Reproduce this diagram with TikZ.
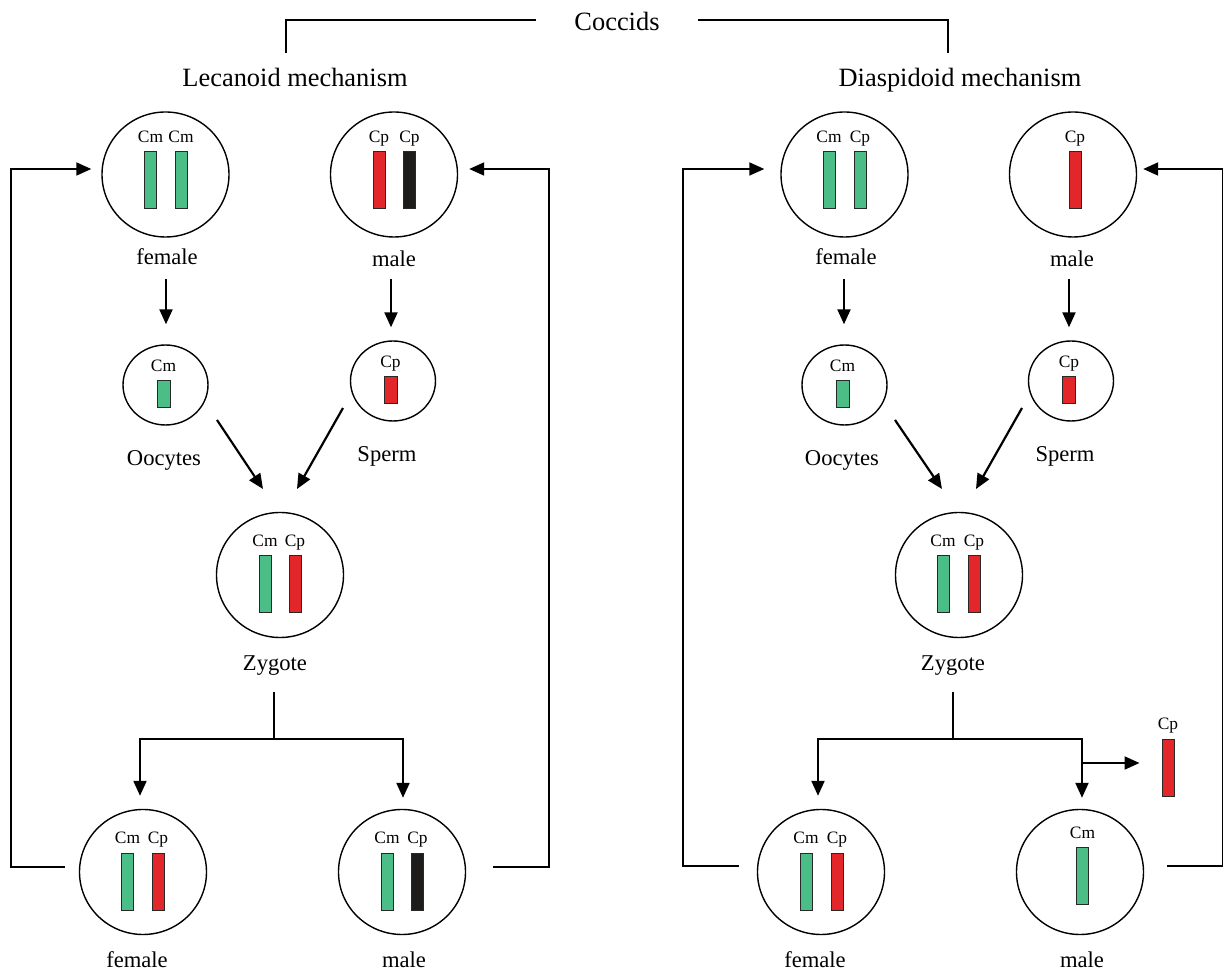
\documentclass[tikz,border=0pt]{standalone}
\usepackage{fontspec}
\setmainfont{Liberation Serif}
\newfontfamily\timesf{Liberation Serif}
\usetikzlibrary{shapes.geometric,arrows.meta,calc}
\definecolor{chrgreen}{RGB}{75,190,136}
\definecolor{chrred}{RGB}{227,38,42}
\definecolor{chrblack}{RGB}{30,27,27}
\definecolor{chredge}{RGB}{40,40,40}
\newcommand{\chrom}[5]{%
  \node[#4] (#1) at (#2,#3) {};
  \node[chrlab] (#1t) at ($(#1.north)+(0,-9)$) {#5};}
\begin{document}
\begin{tikzpicture}[x=0.5pt,y=-0.5pt,
  bigcell/.style={ellipse,draw,line width=0.7pt,minimum width=63.5pt,minimum height=62.5pt,inner sep=0pt},
  smallcell/.style={ellipse,draw,line width=0.7pt,minimum width=42.5pt,minimum height=40pt,inner sep=0pt},
  barbase/.style={rectangle,draw=chredge,line width=0.5pt,inner sep=0pt,minimum width=6pt,minimum height=28.5pt},
  gbar/.style={barbase,fill=chrgreen},
  rbar/.style={barbase,fill=chrred},
  kbar/.style={barbase,fill=chrblack},
  gsbar/.style={gbar,minimum width=6.5pt,minimum height=13.5pt},
  rsbar/.style={rbar,minimum width=6.5pt,minimum height=13.5pt},
  head/.style={anchor=base,inner sep=0pt,font=\timesf\fontsize{13.2pt}{15pt}\selectfont},
  lab/.style={anchor=base,inner sep=0pt,font=\timesf\fontsize{11.3pt}{13pt}\selectfont},
  chrlab/.style={anchor=base,inner sep=0pt,font=\timesf\fontsize{8.7pt}{10pt}\selectfont},
  arr/.style={line width=1.1pt,-{Triangle[length=7.5pt,width=6.5pt]}},
  loopline/.style={line width=0.9pt,-{Triangle[length=7.5pt,width=6.5pt]}},
  tline/.style={line width=0.7pt},
  tline2/.style={line width=0.8pt},
]
\useasboundingbox (0,0) rectangle (1223,972);

% headings
\node[head] (coccids) at (617,31) {Coccids};
\node[head] (lech) at (295,87) {Lecanoid mechanism};
\node[head] (diah) at (960,87) {Diaspidoid mechanism};
\coordinate (brL) at (286,53);
\coordinate (brR) at (948,53);
\draw[tline] ([xshift=-19pt,yshift=1pt]coccids.west) -| (brL);
\draw[tline] ([xshift=19pt,yshift=1pt]coccids.east) -| (brR);

% ---------- Lecanoid ----------
\node[bigcell] (LF) at (165.5,174.5) {};
\node[bigcell] (LM) at (394,174.5) {};
\chrom{lf1}{150.5}{180.5}{gbar}{Cm}
\chrom{lf2}{181}{180.5}{gbar}{Cm}
\chrom{lm1}{379}{180.5}{rbar}{Cp}
\chrom{lm2}{409.5}{180.5}{kbar}{Cp}
\node[lab] (LFt) at (167,265) {female};
\node[lab] (LMt) at (394,267) {male};
\node[smallcell] (LO) at (165.5,385) {};
\node[smallcell] (LS) at (393,381) {};
\chrom{lo1}{163.5}{394.5}{gsbar}{Cm}
\chrom{ls1}{390.5}{390.5}{rsbar}{Cp}
\node[lab] (LOt) at (164,466) {Oocytes};
\node[lab] (LSt) at (387,462) {Sperm};
\node[bigcell] (LZ) at (280,575) {};
\chrom{lz1}{265}{584.5}{gbar}{Cm}
\chrom{lz2}{295}{584.5}{rbar}{Cp}
\node[lab] (LZt) at (275,671) {Zygote};
\node[bigcell] (LBF) at (143,872) {};
\node[bigcell] (LBM) at (402,872) {};
\chrom{lbf1}{127.5}{882}{gbar}{Cm}
\chrom{lbf2}{158}{882}{rbar}{Cp}
\chrom{lbm1}{387}{882}{gbar}{Cm}
\chrom{lbm2}{417.5}{882}{kbar}{Cp}
\node[lab] (LBFt) at (137,968) {female};
\node[lab] (LBMt) at (404,968) {male};

\draw[arr] ($(LFt.base)+(-1,14)$) -- ($(LO.north)+(0.5,-20)$);
\draw[arr] ($(LMt.base)+(-3,12)$) -- ($(LS.north)+(-2,-13)$);
\draw[arr] ($(LO)+(51.5,35)$) -- ($(LZ)+(-17,-86)$);
\draw[arr] ($(LS)+(-50,27)$) -- ($(LZ)+(17,-86)$);
\coordinate (Lsplit) at (274,739);
\draw[tline2] ($(LZt.base)+(-1,21)$) -- (Lsplit);
\draw[arr] (Lsplit) -| ($(LBF.north)+(-3,-13)$);
\draw[arr] (Lsplit) -| ($(LBM.north)+(1,-11)$);
\draw[loopline] ($(LBF.west)+(-14,-5)$) -| ($(LF.west)+(-90,-5.5)$) -- ($(LF.west)+(-10,-5.5)$);
\draw[loopline] ($(LBM.east)+(27,-5)$) -| ($(LM.east)+(91,-5.5)$) -- ($(LM.east)+(11,-5.5)$);

% ---------- Diaspidoid ----------
\node[bigcell] (RF) at (844.5,174.5) {};
\node[bigcell] (RM) at (1073,174.5) {};
\chrom{rf1}{829}{180.5}{gbar}{Cm}
\chrom{rf2}{860}{180.5}{gbar}{Cp}
\chrom{rm1}{1075}{180.5}{rbar}{Cp}
\node[lab] (RFt) at (846,265) {female};
\node[lab] (RMt) at (1072,267) {male};
\node[smallcell] (RO) at (844.5,385) {};
\node[smallcell] (RS) at (1071,381) {};
\chrom{ro1}{842.5}{394.5}{gsbar}{Cm}
\chrom{rs1}{1069}{390.5}{rsbar}{Cp}
\node[lab] (ROt) at (842,466) {Oocytes};
\node[lab] (RSt) at (1065,462) {Sperm};
\node[bigcell] (RZ) at (959,575) {};
\chrom{rz1}{943}{584.5}{gbar}{Cm}
\chrom{rz2}{974}{584.5}{rbar}{Cp}
\node[lab] (RZt) at (953,671) {Zygote};
\node[bigcell] (RBF) at (821,872) {};
\node[bigcell] (RBM) at (1080,872) {};
\chrom{rbf1}{806}{882}{gbar}{Cm}
\chrom{rbf2}{837}{882}{rbar}{Cp}
\chrom{rbm1}{1082.5}{876.5}{gbar}{Cm}
\chrom{rfree}{1168}{768}{rbar}{Cp}
\node[lab] (RBFt) at (815,968) {female};
\node[lab] (RBMt) at (1082,968) {male};

\draw[arr] ($(RFt.base)+(-2,14)$) -- ($(RO.north)+(-0.5,-20)$);
\draw[arr] ($(RMt.base)+(-3,12)$) -- ($(RS.north)+(-2,-13)$);
\draw[arr] ($(RO)+(50.5,35)$) -- ($(RZ)+(-17,-86)$);
\draw[arr] ($(RS)+(-49,27)$) -- ($(RZ)+(17,-86)$);
\coordinate (Rsplit) at (953,739);
\draw[tline2] ($(RZt.base)+(0,21)$) -- (Rsplit);
\draw[arr] (Rsplit) -| ($(RBF.north)+(-3,-13)$);
\draw[arr] (Rsplit) -| ($(RBM.north)+(2,-11)$);
\coordinate (Rbranch) at (1082,763);
\draw[arr] (Rbranch) -- ($(rfree.west |- Rbranch)+(-22,0)$);
\draw[loopline] ($(RBF.west)+(-18,-6)$) -| ($(RF.west)+(-97,-5.5)$) -- ($(RF.west)+(-16,-5.5)$);
\draw[loopline] ($(RBM.east)+(23,-6)$) -| ($(RM.east)+(86,-5.5)$) -- ($(RM.east)+(6,-5.5)$);
\end{tikzpicture}
\end{document}
